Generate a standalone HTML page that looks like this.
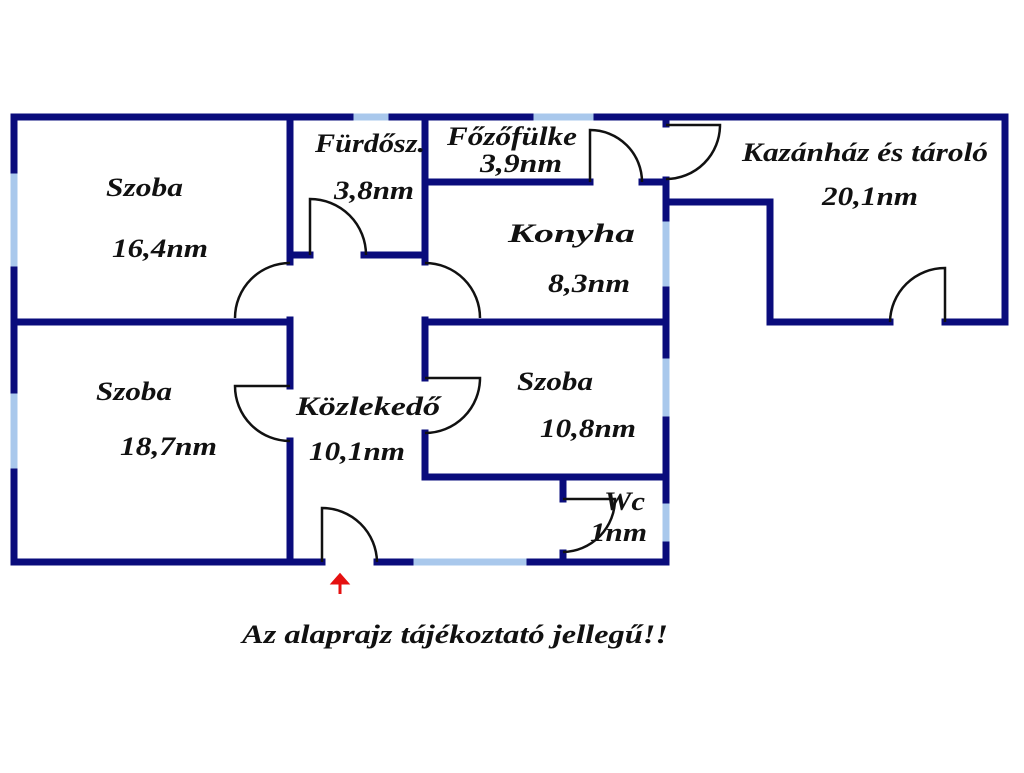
<!DOCTYPE html>
<html><head><style>
body{margin:0;background:#fff;width:1024px;height:768px;overflow:hidden}
svg text{font-family:"Liberation Serif",serif;font-style:italic;font-weight:bold;fill:#111;font-size:26px}
</style></head><body>
<svg width="1024" height="768" viewBox="0 0 1024 768">
<g stroke="#a9c8ec" stroke-width="7" fill="none">
<line x1="14" y1="170" x2="14" y2="270"/>
<line x1="14" y1="390" x2="14" y2="472"/>
<line x1="350" y1="117" x2="392" y2="117"/>
<line x1="530" y1="117" x2="597" y2="117"/>
<line x1="666" y1="218" x2="666" y2="290"/>
<line x1="666" y1="355" x2="666" y2="420"/>
<line x1="666" y1="500" x2="666" y2="545"/>
<line x1="410" y1="562" x2="530" y2="562"/>
</g>
<g stroke="#0a0c7c" stroke-width="7" fill="none" stroke-linecap="square">
<line x1="14" y1="117" x2="350" y2="117"/>
<line x1="392" y1="117" x2="530" y2="117"/>
<line x1="597" y1="117" x2="1005" y2="117"/>
<line x1="14" y1="117" x2="14" y2="170"/>
<line x1="14" y1="270" x2="14" y2="390"/>
<line x1="14" y1="472" x2="14" y2="562"/>
<line x1="14" y1="562" x2="322" y2="562"/>
<line x1="377" y1="562" x2="410" y2="562"/>
<line x1="530" y1="562" x2="666" y2="562"/>
<line x1="666" y1="117" x2="666" y2="124"/>
<line x1="666" y1="180" x2="666" y2="218"/>
<line x1="666" y1="290" x2="666" y2="355"/>
<line x1="666" y1="420" x2="666" y2="500"/>
<line x1="666" y1="545" x2="666" y2="562"/>
<line x1="1005" y1="117" x2="1005" y2="322"/>
<line x1="945" y1="322" x2="1005" y2="322"/>
<line x1="770" y1="322" x2="890" y2="322"/>
<line x1="770" y1="202" x2="770" y2="322"/>
<line x1="666" y1="202" x2="770" y2="202"/>
<line x1="290" y1="117" x2="290" y2="262"/>
<line x1="290" y1="320" x2="290" y2="386"/>
<line x1="290" y1="441" x2="290" y2="562"/>
<line x1="425" y1="117" x2="425" y2="262"/>
<line x1="425" y1="320" x2="425" y2="378"/>
<line x1="425" y1="433" x2="425" y2="477"/>
<line x1="290" y1="255" x2="310" y2="255"/>
<line x1="364" y1="255" x2="425" y2="255"/>
<line x1="425" y1="182" x2="590" y2="182"/>
<line x1="642" y1="182" x2="666" y2="182"/>
<line x1="14" y1="322" x2="290" y2="322"/>
<line x1="425" y1="322" x2="666" y2="322"/>
<line x1="425" y1="477" x2="666" y2="477"/>
<line x1="563" y1="477" x2="563" y2="499"/>
<line x1="563" y1="553" x2="563" y2="562"/>
</g>
<g stroke="#111" stroke-width="2.5" fill="none">
<path d="M310 255 V199 A56 56 0 0 1 366 255"/>
<path d="M290 263 A55 55 0 0 0 235 318"/>
<path d="M425 263 A55 55 0 0 1 480 318"/>
<path d="M290 386 H235 A55 55 0 0 0 290 441"/>
<path d="M425 378 H480 A55 55 0 0 1 425 433"/>
<path d="M563 499 H615 A53 53 0 0 1 563 552"/>
<path d="M322 562 V508 A55 55 0 0 1 377 562"/>
<path d="M590 182 V130 A52 52 0 0 1 642 182"/>
<path d="M666 125 H720 A54 54 0 0 1 666 179"/>
<path d="M945 322 V268 A55 55 0 0 0 890 322"/>
</g>
<path d="M340 594 V582 M333 583 L340 575 L347 583 Z" stroke="#e51010" stroke-width="3" fill="#e51010"/>
<text x="106" y="196" textLength="77" lengthAdjust="spacingAndGlyphs">Szoba</text>
<text x="112" y="257" textLength="96" lengthAdjust="spacingAndGlyphs">16,4nm</text>
<text x="315" y="152" textLength="110" lengthAdjust="spacingAndGlyphs">Fürdősz.</text>
<text x="334" y="199" textLength="80" lengthAdjust="spacingAndGlyphs">3,8nm</text>
<text x="447" y="145" textLength="130" lengthAdjust="spacingAndGlyphs">Főzőfülke</text>
<text x="480" y="172" textLength="82" lengthAdjust="spacingAndGlyphs">3,9nm</text>
<text x="508" y="242" textLength="127" lengthAdjust="spacingAndGlyphs">Konyha</text>
<text x="548" y="292" textLength="82" lengthAdjust="spacingAndGlyphs">8,3nm</text>
<text x="742" y="161" textLength="246" lengthAdjust="spacingAndGlyphs">Kazánház és tároló</text>
<text x="822" y="205" textLength="96" lengthAdjust="spacingAndGlyphs">20,1nm</text>
<text x="96" y="400" textLength="76" lengthAdjust="spacingAndGlyphs">Szoba</text>
<text x="120" y="455" textLength="97" lengthAdjust="spacingAndGlyphs">18,7nm</text>
<text x="296" y="415" textLength="144" lengthAdjust="spacingAndGlyphs">Közlekedő</text>
<text x="309" y="460" textLength="96" lengthAdjust="spacingAndGlyphs">10,1nm</text>
<text x="517" y="390" textLength="76" lengthAdjust="spacingAndGlyphs">Szoba</text>
<text x="540" y="437" textLength="96" lengthAdjust="spacingAndGlyphs">10,8nm</text>
<text x="604" y="510" textLength="41" lengthAdjust="spacingAndGlyphs">Wc</text>
<text x="590" y="541" textLength="57" lengthAdjust="spacingAndGlyphs">1nm</text>
<text x="242" y="643" textLength="426" lengthAdjust="spacingAndGlyphs">Az alaprajz tájékoztató jellegű!!</text>
</svg>
</body></html>
